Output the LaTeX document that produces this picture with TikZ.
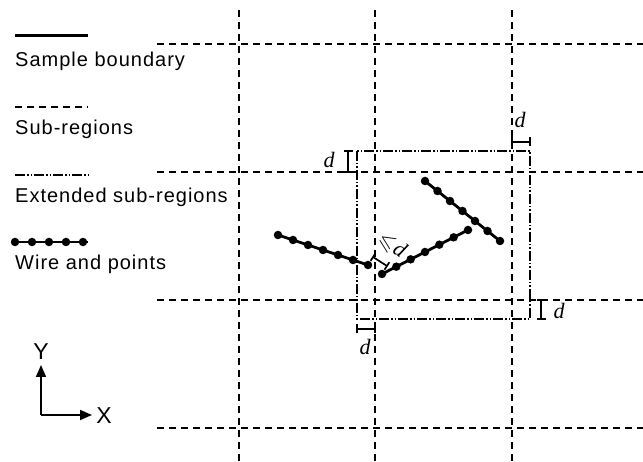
\documentclass[tikz,border=0pt]{standalone}
\usepackage{fontspec}
\usepackage{amssymb}
\setmainfont{Liberation Serif}
\newfontfamily\legendfont[LetterSpace=5]{Liberation Sans}
\newfontfamily\axisfont{Liberation Sans}
\usetikzlibrary{arrows.meta,calc}

\begin{document}
\begin{tikzpicture}[
  x=1pt, y=-1pt,
  >=Latex,
  grid/.style={line width=1.5pt, dash pattern=on 7pt off 5pt},
  extbox/.style={line width=1.5pt, dash pattern=on 10pt off 2pt on 1.5pt off 2pt on 1.5pt off 2pt},
  boundary/.style={line width=3pt},
  wire/.style={line width=2.8pt},
  wpt/.style={circle, fill, inner sep=0pt, minimum size=8.5pt},
  dim/.style={{Bar[width=9pt]}-{Bar[width=9pt]}, line width=1.7pt, shorten >=-0.8pt, shorten <=-0.8pt},
  dlabel/.style={font=\fontsize{22}{22}\selectfont\itshape, inner sep=1pt},
  legend/.style={font=\legendfont\fontsize{20}{22}\selectfont, anchor=base west, inner sep=0pt},
  axis/.style={-{Triangle[length=12pt,width=10pt]}, line width=1.8pt},
  axlabel/.style={font=\axisfont\fontsize{23}{23}\selectfont, inner sep=0pt}
]
\useasboundingbox (0,0) rectangle (643,462);

% Sub-region grid
\foreach \gx in {239,375,512}
  \draw[grid] (\gx,10) -- (\gx,462);
\foreach \gy in {44,172,300,428}
  \draw[grid] (157,\gy) -- (643,\gy);

% Extended sub-region
\coordinate (ext-nw) at (357,151);
\coordinate (ext-se) at (530,319);
\draw[extbox] (ext-nw) rectangle (ext-se);

% Extension width markers
\draw[dim] (348,151) -- (348,172);
\node[dlabel] (d-nw) at (329,160) {d};
\draw[dim] (512,142) -- (530,142);
\node[dlabel] (d-ne) at (520,120) {d};
\draw[dim] (541,300) -- (541,319);
\node[dlabel] (d-se) at (559,311) {d};
\draw[dim] (357,329) -- (375,329);
\node[dlabel] (d-sw) at (365,347) {d};

% Wires and points
\coordinate (w1a) at (278,235);
\coordinate (w1b) at (368,265);
\coordinate (w2a) at (382,274);
\coordinate (w2b) at (468,230);
\coordinate (w3a) at (425,181);
\coordinate (w3b) at (500,241);
\foreach \wa/\wb in {w1a/w1b,w2a/w2b,w3a/w3b}{
  \draw[wire] (\wa) -- (\wb);
  \foreach \t in {0,1,...,6}
    \node[wpt] at ($(\wa)!\t/6!(\wb)$) {};
}

% Gap between neighbouring wire ends
\draw[dim] ($(w1b)+(5,-8)$) -- ($(w2a)+(5,-8)$);
\node[dlabel, rotate=-33] (d-gap) at (392,245) {$\leqslant$\hspace{1pt}d};

% Legend
\draw[boundary] (15,36) -- (88,36);
\node[legend] (l-boundary) at (15,67) {Sample boundary};
\draw[grid] (15,107) -- (88,107);
\node[legend] (l-sub) at (15,135) {Sub-regions};
\draw[extbox] (15,175) -- (88,175);
\node[legend] (l-ext) at (15,203) {Extended sub-regions};
\draw[wire] (15,242) -- (88,242);
\foreach \lx in {15,32,49,66,83}
  \node[wpt] at (\lx,242) {};
\node[legend] (l-wire) at (15,270) {Wire and points};

% Axes
\coordinate (orig) at (41,415);
\draw[axis] (orig) -- (41,365);
\draw[axis] (orig) -- (92,415);
\node[axlabel] (ax-y) at (41,352) {Y};
\node[axlabel] (ax-x) at (104,416) {X};
\end{tikzpicture}
\end{document}
